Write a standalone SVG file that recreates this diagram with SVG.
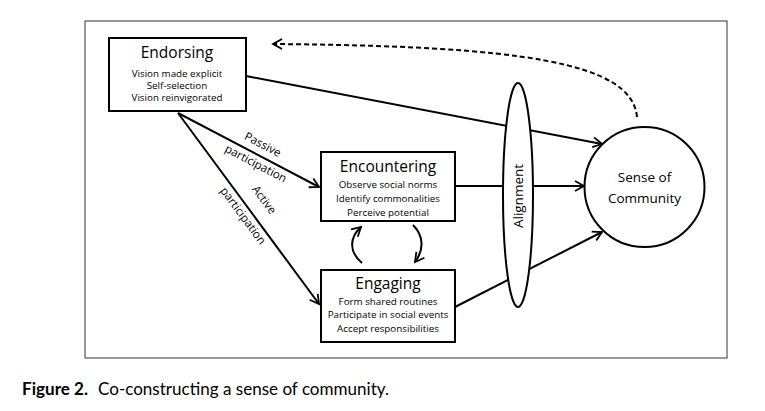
<svg xmlns="http://www.w3.org/2000/svg" width="765" height="411" viewBox="0 0 765 411">
<style>
.box{fill:#fff;stroke:#000;stroke-width:2}
.ln{fill:none;stroke:#000;stroke-width:2}
.t{font-family:"Open Sans","Liberation Sans",sans-serif;fill:#000;text-anchor:middle}
.h{font-size:15.5px}
.s{font-size:9.8px}
.lab{font-family:"Open Sans","Liberation Sans",sans-serif;font-size:11.5px;text-anchor:middle;fill:#000}
.cap{font-family:"Lato","Liberation Sans",sans-serif;font-size:16.5px;fill:#000}
</style>
<defs>
<marker id="ah" markerWidth="12" markerHeight="12" refX="10" refY="6" orient="auto" markerUnits="userSpaceOnUse">
<path d="M1,1 L10,6 L1,11" fill="none" stroke="#000" stroke-width="1.8"/>
</marker>
</defs>
<rect width="765" height="411" fill="#fff"/>
<rect x="85" y="21" width="642" height="337" fill="none" stroke="#333" stroke-width="1"/>
<g id="connectors">
<line class="ln" x1="246" y1="76" x2="602" y2="144" marker-end="url(#ah)"/>
<line class="ln" x1="455" y1="186" x2="584" y2="186" marker-end="url(#ah)"/>
<line class="ln" x1="455" y1="307" x2="602" y2="232" marker-end="url(#ah)"/>
<line class="ln" x1="178" y1="113" x2="319" y2="187" marker-end="url(#ah)"/>
<line class="ln" x1="178" y1="113" x2="319" y2="304" marker-end="url(#ah)"/>
<path class="ln" d="M637,117 C632,62 520,46 273,44" stroke-dasharray="5,3" marker-end="url(#ah)"/>
<path class="ln" d="M362,263 C349,252 349,238 361,227" marker-end="url(#ah)"/>
<path class="ln" d="M413,225 C424,236 424,250 415,262" marker-end="url(#ah)"/>
<text class="lab" transform="translate(261,148) rotate(27.7)">Passive</text>
<text class="lab" transform="translate(254,167) rotate(27.7)">participation</text>
<text class="lab" transform="translate(261,202) rotate(53.6)">Active</text>
<text class="lab" transform="translate(240,218) rotate(53.6)">participation</text>
</g>
<g id="endorsing">
<rect class="box" x="109" y="38" width="137" height="73"/>
<text class="t h" x="177" y="58">Endorsing</text>
<text class="t s" x="177" y="77">Vision made explicit</text>
<text class="t s" x="177" y="89">Self-selection</text>
<text class="t s" x="177" y="101">Vision reinvigorated</text>
</g>
<g id="encountering">
<rect class="box" x="321" y="152" width="134" height="69"/>
<text class="t h" x="388" y="172">Encountering</text>
<text class="t s" x="388" y="188">Observe social norms</text>
<text class="t s" x="388" y="202">Identify commonalities</text>
<text class="t s" x="388" y="216">Perceive potential</text>
</g>
<g id="engaging">
<rect class="box" x="321" y="270" width="134" height="72"/>
<text class="t h" x="388" y="289">Engaging</text>
<text class="t s" x="388" y="305">Form shared routines</text>
<text class="t s" x="388" y="318">Participate in social events</text>
<text class="t s" x="388" y="332">Accept responsibilities</text>
</g>
<g id="alignment">
<ellipse cx="518" cy="195" rx="15" ry="112" fill="#fff" stroke="#000" stroke-width="2"/>
<text class="t" style="font-size:13.5px" transform="translate(523,196) rotate(-90)">Alignment</text>
</g>
<g id="sense">
<circle cx="644.5" cy="187" r="60" fill="#fff" stroke="#000" stroke-width="2"/>
<text class="t" style="font-size:13.5px" x="644.5" y="182">Sense of</text>
<text class="t" style="font-size:13.5px" x="644.5" y="203">Community</text>
</g>
<text class="cap" x="22" y="395" font-weight="bold" textLength="66" lengthAdjust="spacingAndGlyphs">Figure 2.</text>
<text class="cap" x="98" y="395" textLength="291" lengthAdjust="spacingAndGlyphs">Co-constructing a sense of community.</text>
</svg>
